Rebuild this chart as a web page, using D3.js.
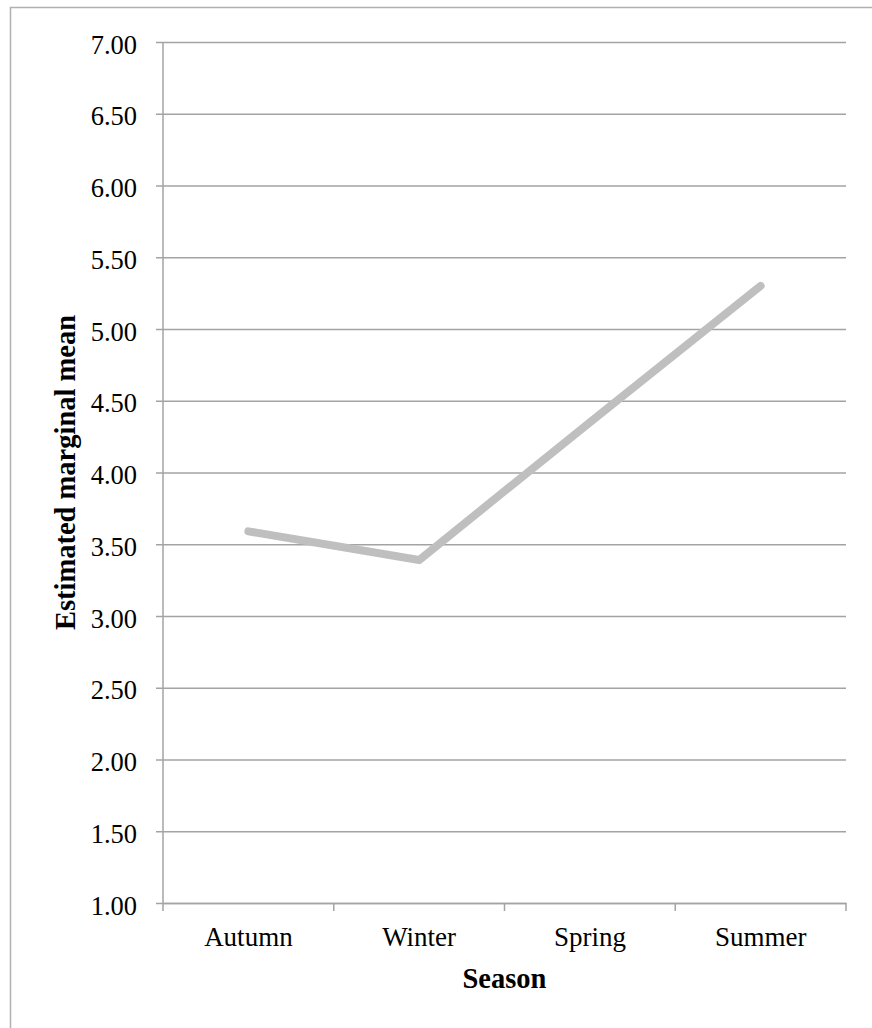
<!DOCTYPE html>
<html>
<head>
<meta charset="utf-8">
<script src="https://cdn.jsdelivr.net/npm/d3@7"></script>
<style>
  html, body { margin: 0; padding: 0; background: #fff; }
  svg { display: block; }
</style>
</head>
<body>
<script>
// Estimated marginal means by season
const seasons = ["Autumn", "Winter", "Spring", "Summer"];
const means = [3.59, 3.39, 4.35, 5.30];
const yTicks = [1.00, 1.50, 2.00, 2.50, 3.00, 3.50, 4.00, 4.50, 5.00, 5.50, 6.00, 6.50, 7.00];
const xTitle = "Season";
const yTitle = "Estimated marginal mean";

const W = 872, H = 1028;
const plot = { left: 163, right: 846, top: 42, bottom: 903 };
const gridColor = "#a3a3a3";
const serif = "'Liberation Serif', 'Times New Roman', serif";

const svg = d3.select("body").append("svg")
  .attr("width", W).attr("height", H);

// chart frame (only left and top edges fall inside the page)
svg.append("rect")
  .attr("x", 10.5).attr("y", 7.5)
  .attr("width", W + 20).attr("height", H + 20)
  .attr("fill", "none").attr("stroke", "#b0b0b0").attr("stroke-width", 1.5);

const x = d3.scaleBand().domain(seasons).range([plot.left, plot.right]);
const y = d3.scaleLinear().domain([1, 7]).range([plot.bottom, plot.top]);

// horizontal gridlines with left tick marks
const yAxis = d3.axisLeft(y)
  .tickValues(yTicks)
  .tickSize(-(plot.right - plot.left))
  .tickSizeOuter(0)
  .tickFormat(d3.format(".2f"));
const gy = svg.append("g").attr("transform", `translate(${plot.left},0)`).call(yAxis);
gy.select(".domain").remove();
gy.selectAll(".tick line")
  .attr("x1", -7)
  .attr("stroke", gridColor).attr("stroke-width", 1.5);
gy.selectAll(".tick text")
  .attr("x", -26).attr("dy", null).attr("y", 11)
  .attr("font-family", serif).attr("font-size", 26.5).attr("fill", "#000");

// vertical axis line
svg.append("line")
  .attr("x1", plot.left).attr("x2", plot.left)
  .attr("y1", plot.top).attr("y2", plot.bottom)
  .attr("stroke", gridColor).attr("stroke-width", 1.5);

// category axis
const xAxis = d3.axisBottom(x).tickSize(0);
const gx = svg.append("g").attr("transform", `translate(0,${plot.bottom})`).call(xAxis);
gx.select(".domain").attr("stroke", gridColor).attr("stroke-width", 1.5);
gx.selectAll(".tick text")
  .attr("y", 43).attr("dy", null)
  .attr("font-family", serif).attr("font-size", 27).attr("fill", "#000");

// tick marks at category boundaries
const bounds = seasons.map(s => x(s)).concat([x(seasons[seasons.length - 1]) + x.bandwidth()]);
svg.append("g").selectAll("line").data(bounds).join("line")
  .attr("x1", d => d).attr("x2", d => d)
  .attr("y1", plot.bottom).attr("y2", plot.bottom + 8)
  .attr("stroke", gridColor).attr("stroke-width", 1.5);

// series line
const line = d3.line()
  .x((d, i) => x(seasons[i]) + x.bandwidth() / 2)
  .y(d => y(d));
svg.append("path")
  .datum(means)
  .attr("d", line)
  .attr("fill", "none")
  .attr("stroke", "#bfbfbf")
  .attr("stroke-width", 8)
  .attr("stroke-linecap", "round")
  .attr("stroke-linejoin", "round");

// axis titles
svg.append("text")
  .attr("x", (plot.left + plot.right) / 2).attr("y", 988)
  .attr("text-anchor", "middle")
  .attr("font-family", serif).attr("font-weight", "bold").attr("font-size", 28.5)
  .text(xTitle);

svg.append("text")
  .attr("transform", `translate(75,${(plot.top + plot.bottom) / 2}) rotate(-90)`)
  .attr("text-anchor", "middle")
  .attr("font-family", serif).attr("font-weight", "bold").attr("font-size", 28.5)
  .text(yTitle);
</script>
</body>
</html>
